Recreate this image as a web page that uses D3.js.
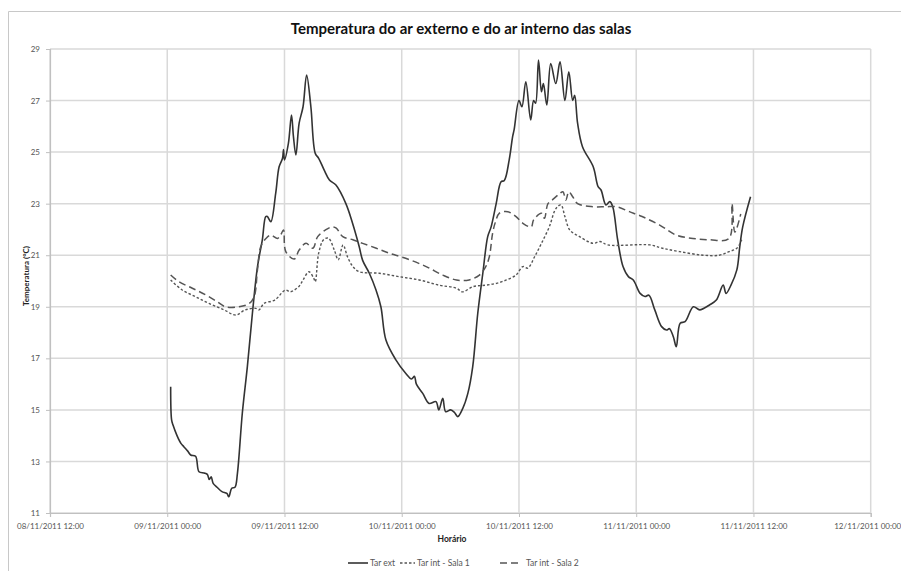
<!DOCTYPE html>
<html>
<head>
<meta charset="utf-8">
<script src="https://cdn.jsdelivr.net/npm/d3@7"></script>
<style>
  body { margin: 0; background: #fff; }
  svg text { font-family: Lato, "Open Sans", sans-serif; }
</style>
</head>
<body>
<svg id="chart" width="901" height="571"></svg>
<script>
// hours counted from 09/11/2011 00:00
const extHours = [0.35, 0.45, 0.6, 1.0, 1.4, 1.7, 2.1, 2.4, 2.9, 3.25, 3.76, 4.1, 4.3, 4.5, 4.7, 5.1, 5.6, 6.1, 6.3, 6.6,
  6.94, 7.18, 7.69, 8.2, 8.72, 9.23, 9.74, 10.08, 10.25, 10.6, 11.1, 11.45, 11.8, 11.9, 12.0, 12.4, 12.71, 12.92, 13.16, 13.5,
  13.9, 14.26, 14.7, 15.15, 15.5, 16.07, 16.6, 17.26, 18.29, 18.97, 19.65, 20.0, 20.68, 21.36, 21.87, 22.38, 23.4, 24.4, 25.0, 25.3,
  25.5, 26.15, 26.8, 27.5, 27.8, 28.2, 28.5, 29.0, 29.4, 29.74, 30.25, 30.76, 31.27, 31.78, 32.3, 32.8, 33.15, 33.66, 34.17, 34.5,
  35.0, 35.35, 35.5, 36.0, 36.3, 36.7, 37.2, 37.5, 37.7, 38.0, 38.3, 38.5, 38.85, 39.25, 39.76, 40.2, 40.7, 41.1, 41.5, 41.7,
  42.0, 42.5, 43.6, 44.1, 44.4, 44.9, 45.3, 45.6, 46.1, 46.65, 47.2, 47.7, 48.4, 48.9, 49.3, 49.9, 50.6, 51.1, 51.4, 51.8,
  52.1, 52.5, 53.0, 53.85, 54.5, 55.5, 56.2, 56.9, 57.2, 57.7, 58.3, 58.6, 58.9, 59.7];
const extTemps = [15.9, 14.6, 14.4, 14.0, 13.7, 13.57, 13.4, 13.25, 13.2, 12.6, 12.55, 12.5, 12.3, 12.4, 12.15, 12.0, 11.83, 11.76, 11.63, 11.96,
  12.0, 12.54, 14.87, 16.68, 18.75, 20.55, 21.6, 22.5, 22.5, 22.3, 23.4, 24.43, 24.76, 25.1, 24.7, 25.34, 26.44, 25.6, 24.89, 26.12,
  26.76, 27.99, 26.76, 24.95, 24.76, 24.3, 23.92, 23.72, 23.0, 22.24, 21.33, 20.8, 20.3, 19.65, 19.0, 17.71, 16.94, 16.42, 16.2, 16.3,
  16.0, 15.64, 15.25, 15.32, 15.0, 15.45, 14.93, 15.0, 14.9, 14.74, 15.06, 15.64, 16.68, 18.75, 20.3, 21.72, 22.1, 23.0, 23.85, 23.9,
  24.7, 25.6, 25.86, 27.0, 26.76, 27.73, 26.25, 27.0, 26.9, 28.57, 27.34, 27.66, 26.83, 28.44, 27.66, 28.5, 27.0, 28.12, 27.0, 27.2,
  26.12, 25.21, 24.43, 23.66, 23.53, 22.95, 23.08, 22.88, 21.6, 20.56, 20.17, 20.04, 19.52, 19.4, 19.45, 18.88, 18.23, 18.1, 18.15, 17.84,
  17.45, 18.36, 18.42, 19.0, 18.88, 19.07, 19.26, 19.84, 19.52, 19.84, 20.43, 21.33, 22.1, 23.27];

const sala1Hours = [0.35, 1.54, 2.9, 4.27, 5.8, 7.0, 8.0, 9.06, 9.4, 9.9, 11.0, 12.1, 12.6, 13.5, 13.9, 14.5, 15.0, 15.15, 15.5, 16.0,
  16.5, 17.1, 17.5, 18.0, 18.45, 19.0, 19.65, 21.7, 23.7, 25.8, 27.8, 29.6, 30.2, 31.3, 32.6, 33.7, 34.7, 35.7, 36.4, 36.9,
  37.6, 38.3, 39.1, 39.8, 40.3, 40.7, 41.2, 42.2, 43.6, 44.3, 45.1, 49.4, 50.7, 52.45, 54.85, 56.5, 57.5, 58.3, 58.8];
const sala1Temps = [20.04, 19.65, 19.39, 19.13, 18.88, 18.68, 18.88, 18.94, 18.88, 19.13, 19.26, 19.65, 19.58, 19.8, 20.04, 20.36, 20.1, 19.97, 21.08, 21.6,
  21.66, 21.2, 20.82, 21.4, 20.94, 20.56, 20.36, 20.3, 20.17, 20.04, 19.84, 19.72, 19.58, 19.78, 19.84, 19.91, 20.04, 20.23, 20.56, 20.5,
  20.94, 21.46, 22.1, 22.82, 22.95, 22.5, 21.98, 21.72, 21.46, 21.53, 21.4, 21.4, 21.27, 21.14, 21.0, 21.0, 21.14, 21.27, 21.6];

const sala2Hours = [0.35, 1.2, 2.56, 3.93, 5.1, 5.97, 7.35, 8.4, 8.9, 9.23, 9.57, 10.1, 10.6, 11.28, 11.6, 11.9, 12.14, 13.0, 13.5, 14.2,
  14.9, 15.4, 16.2, 16.9, 17.3, 17.96, 19.0, 20.0, 21.4, 22.7, 24.4, 26.5, 28.2, 29.6, 30.9, 31.95, 32.6, 32.97, 33.3, 33.6,
  34.0, 34.85, 35.7, 36.4, 37.25, 37.5, 38.3, 38.6, 38.97, 39.4, 40.2, 40.5, 40.8, 41.1, 41.5, 42.0, 43.6, 44.9, 46.0, 47.3,
  48.6, 50.4, 52.1, 53.8, 55.5, 57.5, 57.8, 58.1, 58.7];
const sala2Temps = [20.23, 19.97, 19.72, 19.46, 19.2, 19.0, 19.0, 19.13, 19.39, 20.43, 21.33, 21.65, 21.78, 21.65, 21.78, 21.98, 21.14, 20.85, 21.2, 21.46,
  21.27, 21.72, 21.98, 22.1, 22.05, 21.72, 21.6, 21.46, 21.27, 21.08, 20.88, 20.56, 20.23, 20.04, 20.04, 20.23, 20.56, 20.94, 21.85, 22.3,
  22.63, 22.69, 22.5, 22.24, 22.1, 22.37, 22.63, 22.43, 23.0, 23.14, 23.4, 23.46, 23.14, 23.46, 23.27, 23.0, 22.88, 22.88, 22.88, 22.69,
  22.5, 22.17, 21.78, 21.65, 21.6, 21.65, 23.0, 21.9, 22.6];

const yTicks = [11, 13, 15, 17, 19, 21, 23, 25, 27, 29];
const seriesNames = ["Tar ext", "Tar int - Sala 1", "Tar int - Sala 2"];

const start = new Date(2011, 10, 9, 0, 0);
const toPoints = (hours, temps) => hours.map((h, i) => ({ date: d3.timeMinute.offset(start, Math.round(h * 60)), temp: temps[i] }));

const series = [
  { name: seriesNames[0], points: toPoints(extHours, extTemps), dash: null, color: "#333", width: 1.6 },
  { name: seriesNames[1], points: toPoints(sala1Hours, sala1Temps), dash: "2.5,2", color: "#555", width: 1.4 },
  { name: seriesNames[2], points: toPoints(sala2Hours, sala2Temps), dash: "7,4", color: "#555", width: 1.5 }
];

const margin = { left: 50, top: 49 };
const width = 820.7;
const height = 464;

const svg = d3.select("#chart");

// chart area border (top and left visible)
svg.append("path")
  .attr("d", "M8.5,571 V11.5 H901")
  .attr("fill", "none")
  .attr("stroke", "#c8c8c8")
  .attr("stroke-width", 1);

svg.append("text")
  .attr("x", 461)
  .attr("y", 34)
  .attr("text-anchor", "middle")
  .attr("font-size", 15)
  .attr("font-weight", "bold")
  .attr("fill", "#111")
  .text("Temperatura do ar externo e do ar interno das salas");

const g = svg.append("g").attr("transform", `translate(${margin.left},${margin.top})`);

const x = d3.scaleTime()
  .domain([new Date(2011, 10, 8, 12, 0), new Date(2011, 10, 12, 0, 0)])
  .range([0, width]);

const y = d3.scaleLinear()
  .domain([11, 29])
  .range([height, 0]);

const fmt = d3.timeFormat("%d/%m/%Y %H:%M");

// gridlines
g.append("g")
  .selectAll("line")
  .data(yTicks)
  .join("line")
  .attr("x1", 0).attr("x2", width)
  .attr("y1", d => y(d)).attr("y2", d => y(d))
  .attr("stroke", "#d9d9d9").attr("stroke-width", 1.5);

g.append("g")
  .selectAll("line")
  .data(x.ticks(d3.timeHour.every(12)))
  .join("line")
  .attr("x1", d => x(d)).attr("x2", d => x(d))
  .attr("y1", 0).attr("y2", height)
  .attr("stroke", "#d9d9d9").attr("stroke-width", 1.5);

// axes
const xAxis = g.append("g")
  .attr("transform", `translate(0,${height})`)
  .call(d3.axisBottom(x).ticks(d3.timeHour.every(12)).tickFormat(fmt).tickSize(4).tickPadding(6));

const yAxis = g.append("g")
  .call(d3.axisLeft(y).tickValues(yTicks).tickSize(4).tickPadding(6));

[xAxis, yAxis].forEach(a => {
  a.select(".domain").attr("stroke", "#c0c0c0").attr("stroke-width", 1.2);
  a.selectAll(".tick line").attr("stroke", "#c0c0c0");
  a.selectAll(".tick text").attr("fill", "#555").attr("font-size", 8).attr("font-family", "Lato, sans-serif");
});
// last label sits on the right edge, as in the original; keep it inside the page
xAxis.selectAll(".tick text").filter((d, i, n) => i === n.length - 1)
  .attr("text-anchor", "end").attr("dx", 30);

// axis titles
svg.append("text")
  .attr("x", 452)
  .attr("y", 542)
  .attr("text-anchor", "middle")
  .attr("font-size", 8.5)
  .attr("font-weight", "bold")
  .attr("fill", "#222")
  .text("Horário");

svg.append("text")
  .attr("transform", "translate(29,276) rotate(-90)")
  .attr("text-anchor", "middle")
  .attr("font-size", 8)
  .attr("font-weight", "bold")
  .attr("fill", "#222")
  .text("Temperatura (°C)");

// lines
const line = d3.line()
  .x(d => x(d.date))
  .y(d => y(d.temp))
  .curve(d3.curveCatmullRom.alpha(0.5));

g.selectAll(".serie")
  .data(series)
  .join("path")
  .attr("class", "serie")
  .attr("d", d => line(d.points))
  .attr("fill", "none")
  .attr("stroke", d => d.color)
  .attr("stroke-width", d => d.width)
  .attr("stroke-dasharray", d => d.dash)
  .attr("stroke-linejoin", "round");

// legend
const legendX = [348, 400, 500];
const legendLen = [20, 15, 18];
const legend = svg.append("g").attr("transform", "translate(0,563)");
series.forEach((s, i) => {
  legend.append("line")
    .attr("x1", legendX[i]).attr("x2", legendX[i] + legendLen[i])
    .attr("y1", 0).attr("y2", 0)
    .attr("stroke", s.color)
    .attr("stroke-width", s.width)
    .attr("stroke-dasharray", s.dash);
  legend.append("text")
    .attr("x", legendX[i] + legendLen[i] + (i === 2 ? 8 : 2))
    .attr("y", 3)
    .attr("font-size", 8.5)
    .attr("fill", "#555")
    .text(s.name);
});
</script>
</body>
</html>
